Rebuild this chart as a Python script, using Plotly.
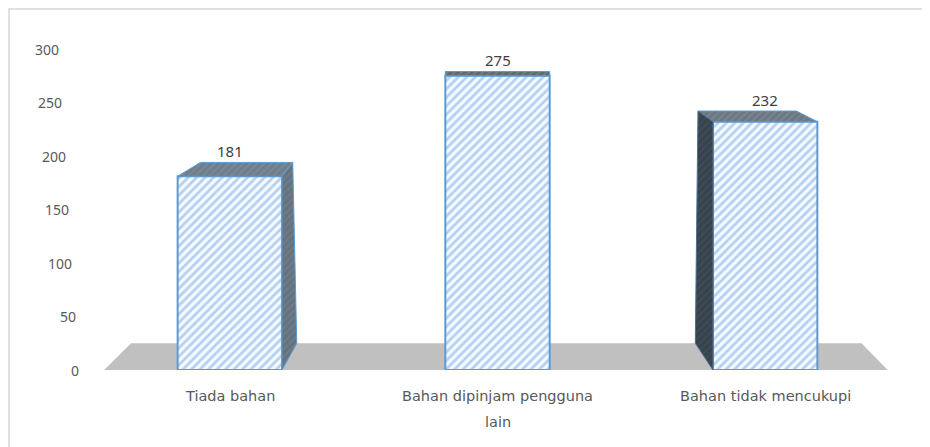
import plotly.graph_objects as go

# ---- data ----
categories = ["Tiada bahan", "Bahan dipinjam pengguna<br>lain", "Bahan tidak mencukupi"]
values = [181, 275, 232]
y_ticks = [0, 50, 100, 150, 200, 250, 300]

# ---- style (3D depth look, in axis units) ----
bar_width = 0.39
# (back-left dx, back-right dx, dy) for each bar's top face perspective
depth = [(0.085, 0.04, 13), (0.0, 0.0, 4), (-0.056, -0.078, 10)]
side = ["right", None, "left"]
top_colors = ["#6f7e8b", "#5d6a75", "#6b7884"]
side_colors = ["#64737f", None, "#37434d"]
font_fam = "Noto Sans"
xlab_fam = "DejaVu Sans"
txt_col = "#595959"

fig = go.Figure()

# front faces (bars)
fig.add_trace(go.Bar(
    x=list(range(len(categories))), y=values, width=bar_width,
    marker=dict(color="#eaf2fb",
                line=dict(color="#5b9bd5", width=2),
                pattern=dict(shape="/", fgcolor="#6fa8e4", bgcolor="#f6f9fe",
                             size=6, solidity=0.45)),
    hoverinfo="skip", showlegend=False,
))

# top & side faces computed from values
for i, v in enumerate(values):
    l, r = i - bar_width / 2, i + bar_width / 2
    dxl, dxr, dy = depth[i]
    fig.add_trace(go.Scatter(
        x=[l, r, r + dxr, l + dxl, l], y=[v, v, v + dy, v + dy, v],
        mode="lines", fill="toself", fillcolor=top_colors[i],
        fillpattern=dict(shape="/", fgcolor="#8795a1", bgcolor=top_colors[i], size=5, solidity=0.3),
        line=dict(color="#5b9bd5", width=1), hoverinfo="skip", showlegend=False,
        cliponaxis=False,
    ))
    if side[i] == "right":
        fig.add_trace(go.Scatter(
            x=[r, r + dxr, r + dxr + 0.015, r, r], y=[v, v + dy, 25, 0, v],
            mode="lines", fill="toself", fillcolor=side_colors[i],
            fillpattern=dict(shape="/", fgcolor="#7a8894", bgcolor=side_colors[i], size=5, solidity=0.3),
            line=dict(color="#5b9bd5", width=1), hoverinfo="skip", showlegend=False,
            cliponaxis=False,
        ))
    elif side[i] == "left":
        fig.add_trace(go.Scatter(
            x=[l, l + dxl, l + dxl - 0.01, l, l], y=[v, v + dy, 25, 0, v],
            mode="lines", fill="toself", fillcolor=side_colors[i],
            fillpattern=dict(shape="/", fgcolor="#4a5762", bgcolor=side_colors[i], size=5, solidity=0.3),
            line=dict(color="#4a6f95", width=1), hoverinfo="skip", showlegend=False,
            cliponaxis=False,
        ))

# value labels
for i, v in enumerate(values):
    fig.add_annotation(x=i, y=v + depth[i][2], text=str(v), showarrow=False,
                       yanchor="bottom", yshift=-1,
                       font=dict(family=font_fam, size=15, color="#404040"))

# category labels (wrapped lines, wide line spacing)
for i, cat in enumerate(categories):
    for k, line in enumerate(cat.split("<br>")):
        fig.add_annotation(x=i, y=0, xref="x", yref="y", text=line, showarrow=False,
                           yanchor="middle", yshift=-(26 + 26 * k),
                           font=dict(family=xlab_fam, size=14.5, color=txt_col))

# y tick labels with a slight perspective stagger
for t in y_ticks:
    fig.add_annotation(x=0, y=t, xref="paper", yref="y", text=str(t), showarrow=False,
                       xanchor="right", yanchor="middle", xshift=-(15 + 20 * t / 300),
                       font=dict(family=font_fam, size=14, color=txt_col))

n = len(categories)
# floor (grey parallelogram behind bars)
fig.add_shape(type="path", layer="below", xref="x", yref="y",
              path=f"M {-0.47} 0 L {n - 0.542} 0 L {n - 0.64} 25 L {-0.369} 25 Z",
              fillcolor="#c0c0c0", line=dict(width=0))

# chart frame (top & left edges)
fig.add_shape(type="path", xref="paper", yref="paper", layer="below",
              path="M -0.1083 -0.3 L -0.1083 1.1246 L 1.1 1.1246",
              line=dict(color="#d6d6d6", width=1.5))

fig.update_layout(
    width=930, height=447,
    margin=dict(l=88, r=39, t=41, b=85),
    paper_bgcolor="white", plot_bgcolor="rgba(0,0,0,0)",
    font=dict(family=font_fam, color=txt_col, size=14),
    xaxis=dict(tickmode="array", tickvals=list(range(n)), showticklabels=False,
               range=[-0.5, n - 0.5], showgrid=False, showline=False, zeroline=False,
               ticks=""),
    yaxis=dict(range=[0, 300], tickvals=y_ticks, showticklabels=False, showgrid=False,
               showline=False, zeroline=False, ticks=""),
)

fig.write_html("out.html")
